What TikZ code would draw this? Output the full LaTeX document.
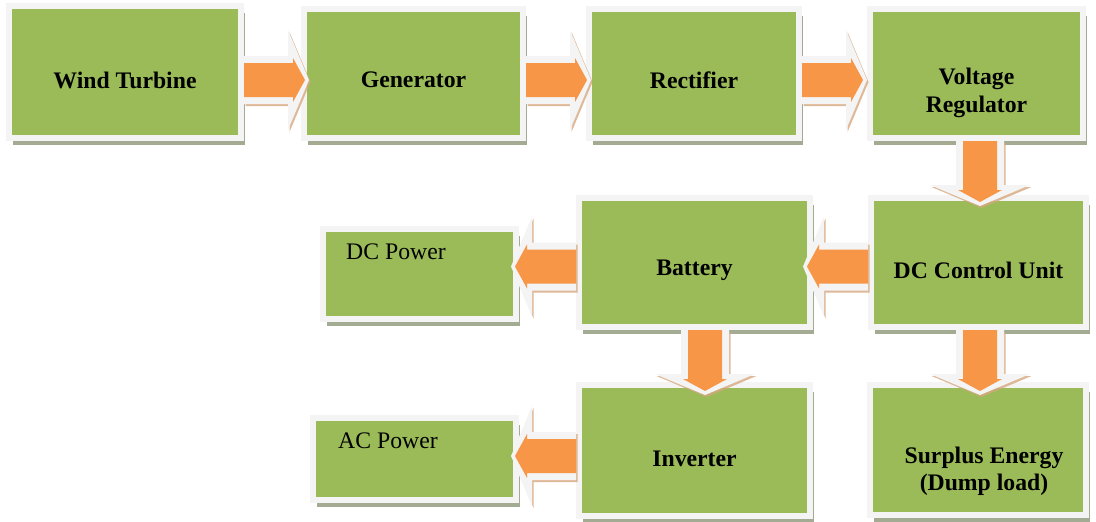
\documentclass[tikz,border=0pt]{standalone}
\usepackage{fontspec}
\setmainfont{Liberation Serif}
\usetikzlibrary{shadows}

\definecolor{boxgreen}{HTML}{9BBB59}
\definecolor{arroworange}{HTML}{F79646}
\definecolor{framewhite}{HTML}{F4F4F4}
\definecolor{shadowgreen}{HTML}{A3AC92}
\definecolor{shadowtan}{HTML}{D6A77E}

\tikzset{
  block/.style={draw=framewhite, fill=boxgreen, line width=0.12cm, inner sep=0pt,
    drop shadow={fill=shadowgreen, opacity=1, shadow xshift=0.08cm, shadow yshift=-0.14cm}},
  blocktext/.style={font=\bfseries\fontsize{13.5}{15.5}\selectfont, align=center},
  plaintext/.style={font=\fontsize{13.5}{15.5}\selectfont},
  arrowframe/.style={fill=framewhite},
  arrowbody/.style={fill=arroworange},
  arrowshadow/.style={fill=shadowtan, opacity=0.8}
}

% outline of the white frame and of the orange body, pointing right
\def\frameoutline{(0,0.48) -- (0.88,0.48) -- (0.88,1.0) -- (1.30,0) -- (0.88,-1.0) -- (0.88,-0.48) -- (0,-0.48) -- cycle}
\def\bodyoutline{(0,0.34) -- (0.98,0.34) -- (0.98,0.44) -- (1.22,0) -- (0.98,-0.44) -- (0.98,-0.34) -- (0,-0.34) -- cycle}

\newcommand{\flowarrow}[2]{%
  \begin{scope}[shift={(#1)}]
    \fill[arrowshadow, shift={(0.03,-0.04)}, rotate=#2] \frameoutline;
    \fill[arrowframe, rotate=#2] \frameoutline;
    \fill[arrowbody, rotate=#2] \bodyoutline;
  \end{scope}}

\begin{document}
\begin{tikzpicture}
    \useasboundingbox (0,0) rectangle (21.92,-10.42);

    % top row
    \node[block, minimum width=4.64cm, minimum height=2.64cm,
          label={[blocktext, yshift=-0.16cm]center:Wind Turbine}] (wt) at (2.50,-1.44) {};
    \node[block, minimum width=4.38cm, minimum height=2.58cm,
          label={[blocktext, yshift=-0.13cm]center:Generator}] (gen) at (8.27,-1.47) {};
    \node[block, minimum width=4.20cm, minimum height=2.58cm,
          label={[blocktext, yshift=-0.13cm]center:Rectifier}] (rect) at (13.88,-1.47) {};
    \node[block, minimum width=4.26cm, minimum height=2.58cm,
          label={[blocktext, yshift=-0.39cm]center:Voltage\\Regulator}] (vr) at (19.53,-1.47) {};

    % middle row
    \node[block, minimum width=3.86cm, minimum height=1.80cm,
          label={[plaintext, anchor=west, xshift=0.40cm, yshift=-0.52cm]north west:DC Power}] (dcp) at (8.39,-5.48) {};
    \node[block, minimum width=4.62cm, minimum height=2.58cm,
          label={[blocktext, yshift=-0.15cm]center:Battery}] (bat) at (13.89,-5.25) {};
    \node[block, minimum width=4.30cm, minimum height=2.58cm,
          label={[blocktext, yshift=-0.15cm]center:DC Control Unit}] (dccu) at (19.57,-5.25) {};

    % bottom row
    \node[block, minimum width=4.06cm, minimum height=1.64cm,
          label={[plaintext, anchor=west, xshift=0.44cm, yshift=-0.52cm]north west:AC Power}] (acp) at (8.29,-9.18) {};
    \node[block, minimum width=4.62cm, minimum height=2.62cm,
          label={[blocktext, yshift=-0.16cm]center:Inverter}] (inv) at (13.89,-9.01) {};
    \node[block, minimum width=4.32cm, minimum height=2.60cm,
          label={[blocktext, xshift=0.12cm, yshift=-0.42cm]center:Surplus Energy\\(Dump load)}] (sur) at (19.56,-9.00) {};

    % block arrows
    \flowarrow{[yshift=-0.16cm]wt.east}{0}
    \flowarrow{[yshift=-0.13cm]gen.east}{0}
    \flowarrow{[yshift=-0.13cm]rect.east}{0}
    \flowarrow{[xshift=0.07cm]vr.south}{-90}
    \flowarrow{[yshift=-0.08cm]dccu.west}{180}
    \flowarrow{[yshift=-0.08cm]bat.west}{180}
    \flowarrow{[xshift=0.21cm]bat.south}{-90}
    \flowarrow{[xshift=0.03cm]dccu.south}{-90}
    \flowarrow{[yshift=-0.11cm]inv.west}{180}
\end{tikzpicture}
\end{document}
